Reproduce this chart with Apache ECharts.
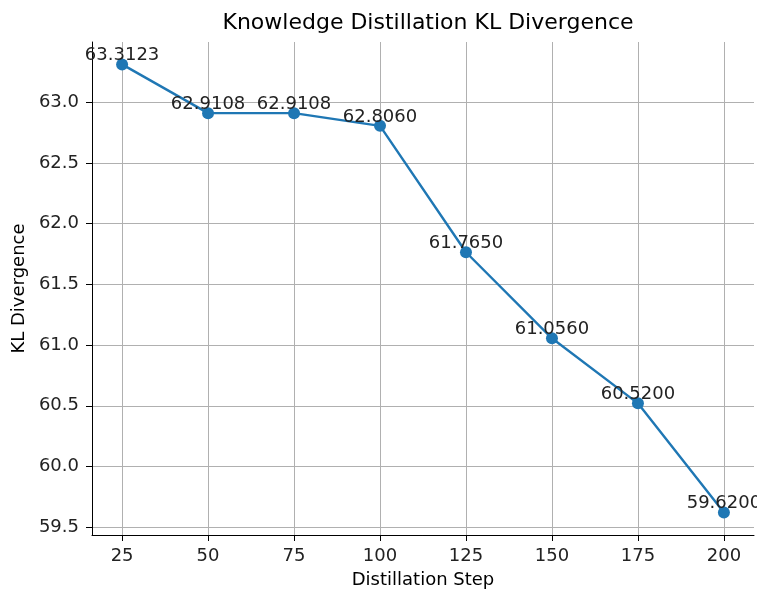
<!DOCTYPE html>
<html>
<head>
<meta charset="utf-8">
<script src="https://cdn.jsdelivr.net/npm/echarts@6/dist/echarts.min.js"></script>
<style>html,body{margin:0;padding:0;background:#fff}#c{width:757px;height:589px}</style>
</head>
<body>
<div id="c"></div>
<script>
const steps = [25, 50, 75, 100, 125, 150, 175, 200];
const klValues = [63.3123, 62.9108, 62.9108, 62.8060, 61.7650, 61.0560, 60.5200, 59.6200];
const xTicks = [25, 50, 75, 100, 125, 150, 175, 200];
const yTicks = [59.5, 60.0, 60.5, 61.0, 61.5, 62.0, 62.5, 63.0];

const font = 'DejaVu Sans';
const chart = echarts.init(document.getElementById('c'));
chart.setOption({
  animation: false,
  title: {
    text: 'Knowledge Distillation KL Divergence',
    left: 423, top: 7, textAlign: 'center',
    textStyle: {fontFamily: font, fontSize: 22, fontWeight: 'normal', color: '#000'}
  },
  grid: {left: 92, right: 3, top: 42, bottom: 54, containLabel: false, outerBoundsMode: 'none'},
  xAxis: {
    type: 'value', min: 16.25, max: 208.75,
    name: 'Distillation Step', nameLocation: 'middle', nameGap: 36,
    nameTextStyle: {fontFamily: font, fontSize: 18, color: '#000'},
    axisLine: {show: true, lineStyle: {color: '#000', width: 1}},
    axisTick: {show: true, inside: false, length: 6, customValues: xTicks, lineStyle: {color: '#000'}},
    axisLabel: {customValues: xTicks, fontFamily: font, fontSize: 18, color: '#222', margin: 12},
    splitLine: {show: true, lineStyle: {color: '#b0b0b0', width: 1}}
  },
  yAxis: {
    type: 'value', min: 59.4354, max: 63.4969,
    name: 'KL Divergence', nameLocation: 'middle', nameGap: 64, nameRotate: 90,
    nameTextStyle: {fontFamily: font, fontSize: 18, color: '#000'},
    axisLine: {show: true, lineStyle: {color: '#000', width: 1}},
    axisTick: {show: true, inside: false, length: 6, customValues: yTicks, lineStyle: {color: '#000'}},
    axisLabel: {customValues: yTicks, fontFamily: font, fontSize: 18, color: '#222', margin: 13,
      formatter: v => v.toFixed(1)},
    splitLine: {show: true, lineStyle: {color: '#b0b0b0', width: 1}}
  },
  series: [{
    type: 'line',
    data: steps.map((s, i) => [s, klValues[i]]),
    symbol: 'circle', symbolSize: 12,
    itemStyle: {color: '#1f77b4'},
    lineStyle: {color: '#1f77b4', width: 2.4},
    label: {show: true, position: 'top', distance: -6,
      formatter: p => p.value[1].toFixed(4),
      fontFamily: font, fontSize: 18, color: '#222'},
    clip: false
  }]
});
</script>
</body>
</html>
